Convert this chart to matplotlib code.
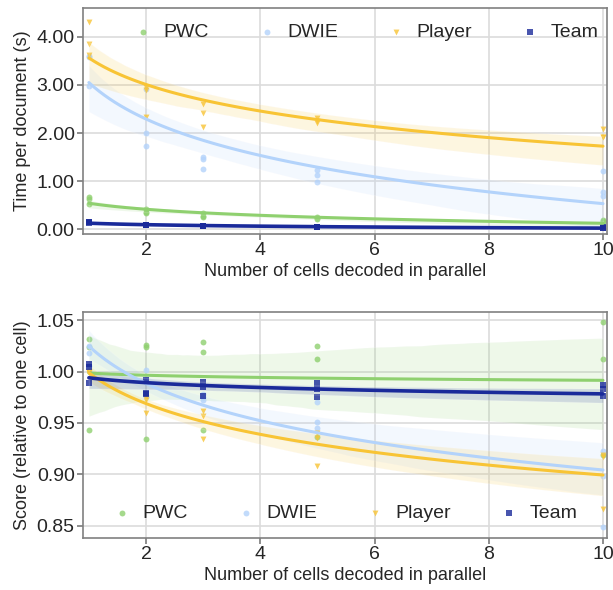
import numpy as np
import matplotlib
matplotlib.use('Agg')
import matplotlib.pyplot as plt
import seaborn as sns

sns.set_theme(style='whitegrid')
plt.rcParams['font.family'] = ['Liberation Sans', 'DejaVu Sans']

names = ['PWC', 'DWIE', 'Player', 'Team']
colors = ['#8fd06f', '#b3d3fb', '#f8c435', '#1a2a9a']
markers = ['o', 'o', 'v', 's']

# x = cells decoded in parallel (same runs for each dataset)
cells = [1, 1, 1, 2, 2, 2, 3, 3, 3, 5, 5, 5, 10, 10, 10]

# time per document (s)
time_y = {
    'PWC':    [0.67, 0.63, 0.52, 0.41, 0.36, 0.33, 0.33, 0.28, 0.25, 0.25, 0.23, 0.22, 0.20, 0.17, 0.15],
    'DWIE':   [3.59, 3.60, 2.98, 2.92, 2.00, 1.73, 1.50, 1.45, 1.25, 1.23, 1.12, 0.98, 1.21, 0.78, 0.69],
    'Player': [4.30, 3.85, 3.62, 2.96, 2.90, 2.33, 2.60, 2.42, 2.13, 2.31, 2.25, 2.20, 2.08, 1.92, 1.92],
    'Team':   [0.15, 0.14, 0.13, 0.09, 0.08, 0.08, 0.07, 0.06, 0.06, 0.05, 0.05, 0.05, 0.04, 0.03, 0.03],
}
# score relative to one cell
score_y = {
    'PWC':    [1.032, 1.024, 0.943, 1.026, 1.024, 0.934, 1.029, 1.019, 0.943, 1.025, 1.012, 0.936, 1.048, 1.012, 0.919],
    'DWIE':   [1.025, 1.018, 1.005, 1.002, 0.990, 0.975, 0.972, 0.975, 0.978, 0.970, 0.951, 0.945, 0.923, 0.898, 0.849],
    'Player': [1.000, 1.000, 0.999, 0.974, 0.972, 0.960, 0.962, 0.957, 0.934, 0.940, 0.935, 0.908, 0.919, 0.917, 0.866],
    'Team':   [1.007, 1.004, 0.989, 0.992, 0.979, 0.978, 0.990, 0.985, 0.976, 0.989, 0.983, 0.975, 0.987, 0.983, 0.976],
}

fig = plt.figure(figsize=(6.13, 5.9), dpi=100)
ax1 = fig.add_axes([83/613, 1-234/590, 524/613, 226/590])
ax2 = fig.add_axes([83/613, 1-538/590, 524/613, 226/590])

for ax, ydata in [(ax1, time_y), (ax2, score_y)]:
    for name, c, m in zip(names, colors, markers):
        sns.regplot(x=np.array(cells), y=np.array(ydata[name]), ax=ax, logx=True,
                    color=c, marker=m, label=name, seed=0, truncate=True,
                    scatter_kws={'s': 18, 'alpha': 0.8, 'linewidths': 0},
                    line_kws={'lw': 2.6 if name == 'Team' else 2.2})
    ax.set_xlim(0.897, 10.07)
    ax.set_xticks([2, 4, 6, 8, 10])
    ax.set_xlabel('Number of cells decoded in parallel', fontsize=13, labelpad=3)
    ax.tick_params(labelsize=14, length=4, color='#808080', bottom=True, left=True, pad=2)
    for s in ax.spines.values():
        s.set_edgecolor('#808080')
        s.set_linewidth(1.2)
    ax.grid(color='#dcdcdc', lw=1.2)

leg_kw = dict(ncol=4, frameon=False, fontsize=14, markerscale=1.0, handlelength=1.0,
              handletextpad=0.53, columnspacing=2.5)

ax1.set_ylim(-0.1, 4.6)
ax1.set_yticks([0, 1, 2, 3, 4])
ax1.set_yticklabels(['0.00', '1.00', '2.00', '3.00', '4.00'])
ax1.set_ylabel('Time per document (s)', fontsize=13)
ax1.legend(loc='upper center', bbox_to_anchor=(0.54, 1.0), borderaxespad=0.4, **leg_kw)

ax2.set_ylim(0.838, 1.058)
ax2.set_yticks([0.85, 0.90, 0.95, 1.00, 1.05])
ax2.set_yticklabels(['0.85', '0.90', '0.95', '1.00', '1.05'])
ax2.set_ylabel('Score (relative to one cell)', fontsize=13)
ax2.legend(loc='lower center', bbox_to_anchor=(0.5, 0.0), borderaxespad=0.4, **leg_kw)

fig.savefig('out.png', dpi=100)
